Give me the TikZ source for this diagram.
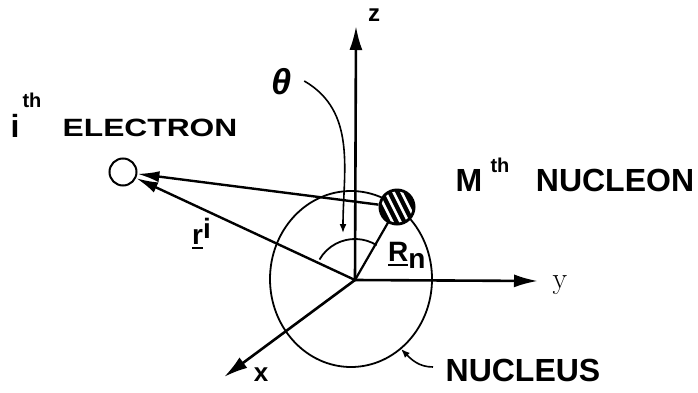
\documentclass[tikz,border=0pt]{standalone}
\usepackage{fontspec}
\setmainfont{Liberation Sans}
\usetikzlibrary{arrows.meta,shapes.geometric}

% underline set well below the letter, as in hand lettering
\newcommand{\lowbar}[1]{\vtop{\hbox{#1}\kern3pt\hrule height 2.2pt}}

\begin{document}
\begin{tikzpicture}[x=1pt,y=1pt,
  axis/.style={line width=2.6pt,-{Latex[length=24pt,width=13pt]}},
  vec/.style={line width=2.4pt,-{Latex[length=22pt,width=11pt]}},
  leader/.style={line width=1.6pt,-{Latex[length=9pt,width=7pt]}},
  fine/.style={line width=1.8pt},
  lbl/.style={inner sep=0pt,font=\fontsize{32}{36}\selectfont\bfseries},
  sup/.style={inner sep=0pt,font=\fontsize{20}{24}\selectfont\bfseries},
  axlbl/.style={inner sep=0pt,font=\fontsize{24}{28}\selectfont\bfseries}]
\useasboundingbox (0,0) rectangle (698,392);

% origin, particles and the nucleus outline
\coordinate (O) at (355,112);
\node[ellipse,draw,fine,minimum width=162pt,minimum height=176pt,inner sep=0pt] (nucleus) at (351,113) {};
\node[circle,draw,line width=2pt,minimum size=27pt,inner sep=0pt] (el) at (123,220) {};
\node[circle,minimum size=37pt,inner sep=0pt] (nuc) at (397,185) {};

% coordinate axes
\coordinate (zt) at (356,366);
\coordinate (yt) at (538,111);
\coordinate (xt) at (224,15);
\draw[axis] (O) -- (zt);
\draw[axis] (O) -- (yt);
\draw[axis] (O) -- (xt);
\node[axlbl] (zl) at (374,377) {z};
\node[inner sep=0pt,font=\fontsize{30}{34}\selectfont\rmfamily] (yl) at (560,107) {\fontspec{Latin Modern Roman}y};
\node[axlbl,font=\fontsize{26}{30}\selectfont\bfseries] (xl) at (261,17) {x};

% position vectors
\draw[vec] (O) -- (el);
\draw[vec] (nuc) -- (el);
\draw[fine,line width=2.2pt] (O) -- (nuc.center);

% angle theta between r and R_n
\draw[fine] (O) ++(58:41) arc[start angle=58,end angle=150,radius=41];

% hatched nucleon
\fill (nuc.center) circle (18.5);
\begin{scope}
  \clip (nuc.center) circle (15.5);
  \foreach \d in {-12,-4,4,12}
    \draw[white,line width=2.6pt,shift={(397,185)}] (\d-14,28) -- (\d+14,-28);
\end{scope}

% labels
\node[lbl] (i) at (15,266) {i};
\node[sup] (ith) at (32,292) {th};
\node[inner sep=0pt,font=\fontsize{25}{30}\selectfont\bfseries] (ellab) at (150,264) {\scalebox{1.27}[1]{ELECTRON}};
\node[lbl] (M) at (469,212) {M};
\node[sup] (mth) at (500,227) {th};
\node[lbl] (nuclab) at (615,212) {NUCLEON};
\node[lbl] (nlab) at (523,22) {NUCLEUS};
\node[inner sep=0pt,font=\fontsize{36}{40}\selectfont\bfseries\itshape] (th) at (282,310) {θ};
\node[inner sep=0pt,font=\fontsize{28}{32}\selectfont\bfseries,anchor=base west] (rl) at (192,148) {\lowbar{r}\raisebox{6pt}{i}};
\node[inner sep=0pt,font=\fontsize{28}{32}\selectfont\bfseries,anchor=base west] (Rl) at (388,131) {\lowbar{R}\raisebox{-7pt}{n}};

% leaders
\coordinate (thtip) at (343,159);
\draw[leader] ([xshift=12pt,yshift=1pt]th.east) to[out=-30,in=90] (thtip);
\coordinate (nstart) at (433,25);
\draw[leader] (nstart) to[out=180,in=-45] (401,43);
\end{tikzpicture}
\end{document}
